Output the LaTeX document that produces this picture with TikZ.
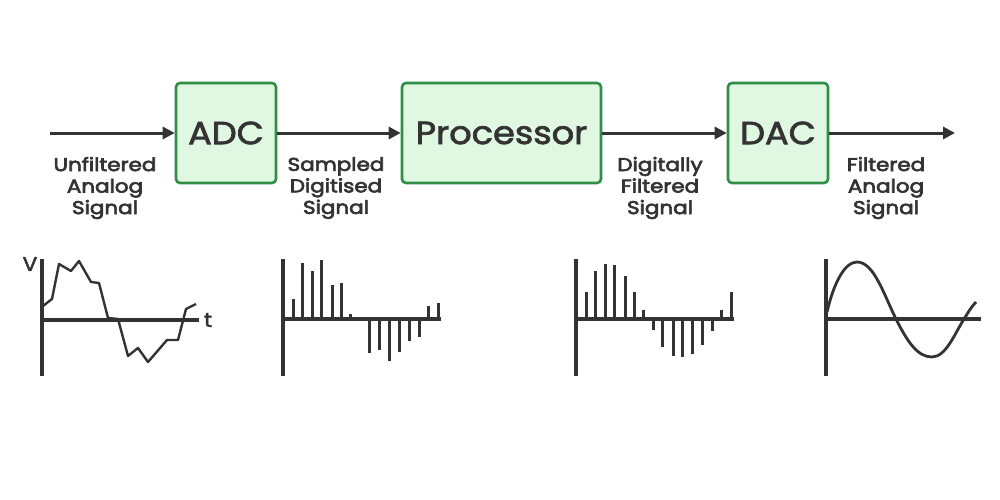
\documentclass[tikz,border=0pt]{standalone}
\usepackage{fontspec}
\setmainfont{Poppins}
\newfontfamily\boxfont{Poppins}[FakeBold=2.2,FakeStretch=1.1]
\newfontfamily\lblfont{Poppins}[FakeBold=3.5,FakeStretch=1.16]
\usetikzlibrary{arrows.meta}
\definecolor{ink}{HTML}{333333}
\definecolor{boxfill}{HTML}{E0F7E2}
\definecolor{boxline}{HTML}{2F8F46}
\begin{document}
\begin{tikzpicture}[x=1pt,y=-1pt,
  blk/.style={draw=boxline,fill=boxfill,line width=2.6pt,rounded corners=4pt,text=ink,font=\boxfont\fontsize{32}{32}\selectfont,inner sep=0pt},
  flow/.style={draw=ink,line width=3pt,-{Triangle[length=12pt,width=12pt]}},
  lbl/.style={text=ink,font=\lblfont\fontsize{18.5}{21.5}\selectfont,align=center},
  axis/.style={draw=ink,line width=4.2pt},
  stem/.style={draw=ink,line width=3pt},
  wave/.style={draw=ink,line width=2.4pt,line join=round}]
\useasboundingbox (0,0) rectangle (1000,500);
% blocks
\node[blk,minimum width=100pt,minimum height=100pt] (adc) at (226,133) {ADC};
\node[blk,minimum width=199pt,minimum height=100pt] (proc) at (501.5,133) {Processor};
\node[blk,minimum width=100pt,minimum height=100pt] (dac) at (778,133) {DAC};
\coordinate (in) at (50,133);
\coordinate (out) at (955,133);
\draw[flow] (in) -- (adc.west);
\draw[flow] (adc.east) -- (proc.west);
\draw[flow] (proc.east) -- (dac.west);
\draw[flow] (dac.east) -- (out);
% labels
\node[lbl] (l1) at (105,188) {Unfiltered\\Analog\\Signal};
\node[lbl] (l2) at (336,188) {Sampled\\Digitised\\Signal};
\node[lbl] (l3) at (660,188) {Digitally\\Filtered\\Signal};
\node[lbl] (l4) at (886,188) {Filtered\\Analog\\Signal};
% graph 1
\draw[axis] (42,259) -- (42,376);
\draw[axis] (42,320) -- (199,320);
\node[text=ink,font=\boxfont\fontsize{20}{20}\selectfont] (v) at (30,264) {V};
\node[text=ink,font=\boxfont\fontsize{20}{20}\selectfont] (t) at (208,320) {t};
\draw[wave] (43,306) -- (52,299) -- (59,264) -- (71,271) -- (79,261) -- (91,282) -- (99,283) -- (108,318) -- (118,319) -- (128,356) -- (138,348) -- (148,362) -- (167,340) -- (178,340) -- (186,309) -- (196,304);
% graph 2
\draw[axis] (283,259) -- (283,376);
\draw[axis] (283,319) -- (441,319);
\foreach \x/\y in {293/299,302/263,312/271,321/260,332/285,341/283,350/314,369/353,379/350,389/361,399/352,409/341,419/337,428/306,438/303}
  \draw[stem] (\x,319) -- (\x,\y);
% graph 3
\draw[axis] (576,259) -- (576,376);
\draw[axis] (576,319) -- (734,319);
\foreach \x/\y in {586/292,595/271,605/264,614/265,625/276,634/292,643/310,653/330,662/347,673/356,682/357,692/354,702/345,712/331,721/310,731/292}
  \draw[stem] (\x,319) -- (\x,\y);
% graph 4
\draw[axis] (826,259) -- (826,376);
\draw[axis] (826,319) -- (981,319);
\draw[wave,line width=2.8pt] (827,312) .. controls (834,282) and (845,262) .. (857,262)
  .. controls (874,262) and (884,295) .. (896,319)
  .. controls (908,343) and (918,357) .. (932,357)
  .. controls (946,357) and (955,333) .. (964,319)
  .. controls (969,311) and (972,306) .. (976,302);
\end{tikzpicture}
\end{document}
